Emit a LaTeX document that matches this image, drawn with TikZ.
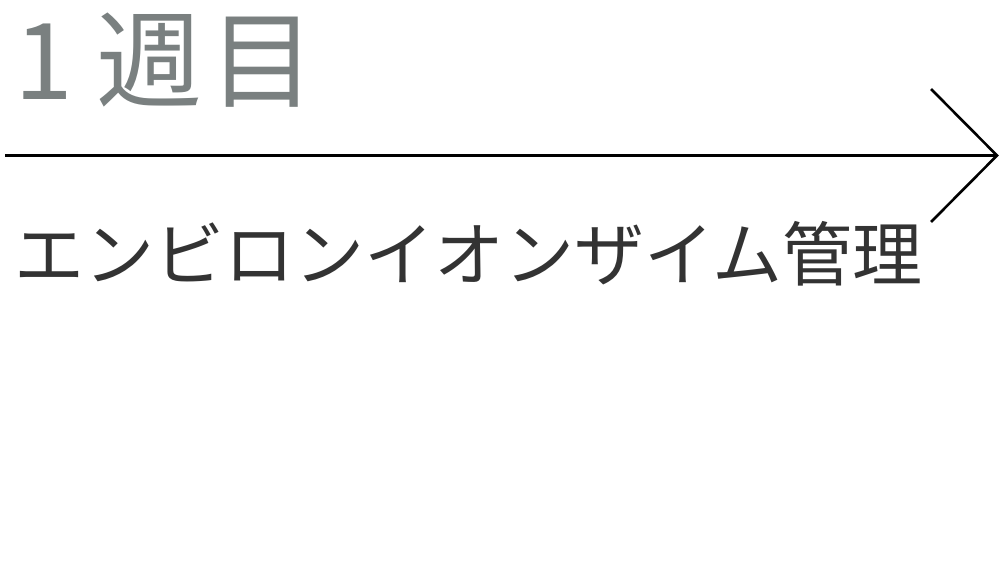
\documentclass[tikz,border=0pt]{standalone}
\usepackage{fontspec}
\newfontfamily\cjk{Noto Sans CJK JP}
\definecolor{titlegray}{HTML}{7A8080}
\definecolor{textdark}{HTML}{333333}
\begin{document}
\begin{tikzpicture}[x=1pt,y=-1pt,
  title/.style={font=\cjk\fontsize{106}{116}\selectfont, text=titlegray, inner sep=0pt, anchor=base west},
  sub/.style={font=\cjk\fontsize{70}{80}\selectfont, text=textdark, inner sep=0pt, anchor=base west},
  axis/.style={line width=3pt, draw=black},
  headline/.style={line width=2.6pt, draw=black, line cap=butt, line join=miter}]
\useasboundingbox (0,0) rectangle (1001,564);
\node[title] (t) at (14,100) {1\kern24pt週\kern6pt目};
\node[sub] (s) at (14,280) {エンビロンイオンザイム管理};
\coordinate (a) at (5,155.5);
\coordinate (b) at (997,155.5);
\coordinate (h1) at (931,89);
\coordinate (h2) at (931,222);
\draw[axis] (a) -- (b);
\draw[headline] (h1) -- (b) -- (h2);
\end{tikzpicture}
\end{document}
